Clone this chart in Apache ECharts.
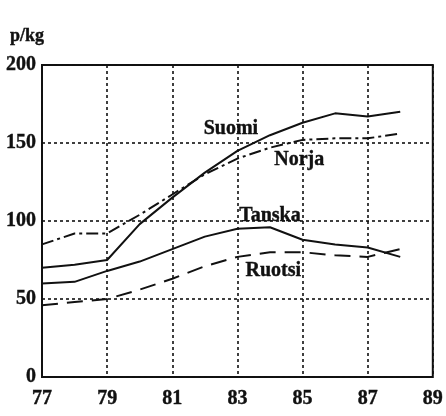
<!DOCTYPE html>
<html>
<head>
<meta charset="utf-8">
<script src="https://cdn.jsdelivr.net/npm/echarts@6/dist/echarts.min.js"></script>
<style>
  html, body { margin: 0; padding: 0; background: #fff; }
  #chart { width: 446px; height: 416px; }
</style>
</head>
<body>
<div id="chart"></div>
<script>
// Vuodet 77..88, hinta p/kg
const baseYear = 77
const years = [77, 78, 79, 80, 81, 82, 83, 84, 85, 86, 87, 88]
const suomi = [70, 72, 75, 98, 115, 131, 145, 155, 163, 169, 167, 170]
const norja = [85, 92, 92, 104, 117, 130, 140, 147, 152, 153, 153, 156]
const tanska = [60, 61, 68, 74, 82, 90, 95, 96, 88, 85, 83, 77]
const ruotsi = [46, 48, 50, 56, 63, 71, 77, 80, 80, 78, 77, 82]

// nimien paikat (vuosi, arvo)
const labelNames = ['Suomi', 'Norja', 'Tanska', 'Ruotsi']
const labelAt = [[82.8, 159], [84.9, 139], [84.0, 103], [84.1, 68]]

const font = 'Liberation Serif'
const ink = '#111'
// skannattu teksti on paksua
const heavy = { fontFamily: font, fontWeight: 'bold', color: ink, textBorderColor: ink, textBorderWidth: 0.4 }

function pairs(vals) {
  return years.map((y, i) => [y - baseYear, vals[i]])
}

function line(name, vals, type, li) {
  return {
    name,
    type: 'line',
    data: pairs(vals),
    symbol: 'none',
    lineStyle: { color: ink, width: 2, type },
    markPoint: {
      symbol: 'circle',
      symbolSize: 0,
      label: Object.assign({ show: true, formatter: name, fontSize: 20 }, heavy),
      data: [{ coord: [labelAt[li][0] - baseYear, labelAt[li][1]] }]
    }
  }
}

const chart = echarts.init(document.getElementById('chart'))
const gridLine = { show: true, lineStyle: { color: ink, width: 1.6, type: [3, 3] } }

chart.setOption({
  animation: false,
  title: {
    text: 'p/kg', left: 5, top: 22,
    textStyle: Object.assign({ fontSize: 18 }, heavy)
  },
  grid: { left: 42, right: 10, top: 65, bottom: 39, show: true, borderColor: ink, borderWidth: 2 },
  xAxis: {
    type: 'value', min: 0, max: 12, interval: 2,
    axisLine: { show: false }, axisTick: { show: false },
    splitLine: gridLine,
    axisLabel: Object.assign({ formatter: v => String(v + baseYear), margin: 12, fontSize: 20 }, heavy)
  },
  yAxis: {
    type: 'value', min: 0, max: 200, interval: 50,
    axisLine: { show: false }, axisTick: { show: false },
    splitLine: gridLine,
    axisLabel: Object.assign({ margin: 6, fontSize: 20 }, heavy)
  },
  series: [
    line(labelNames[0], suomi, 'solid', 0),
    line(labelNames[1], norja, [12, 4, 3, 4], 1),
    line(labelNames[2], tanska, 'solid', 2),
    line(labelNames[3], ruotsi, [16, 9], 3)
  ]
})
</script>
</body>
</html>
